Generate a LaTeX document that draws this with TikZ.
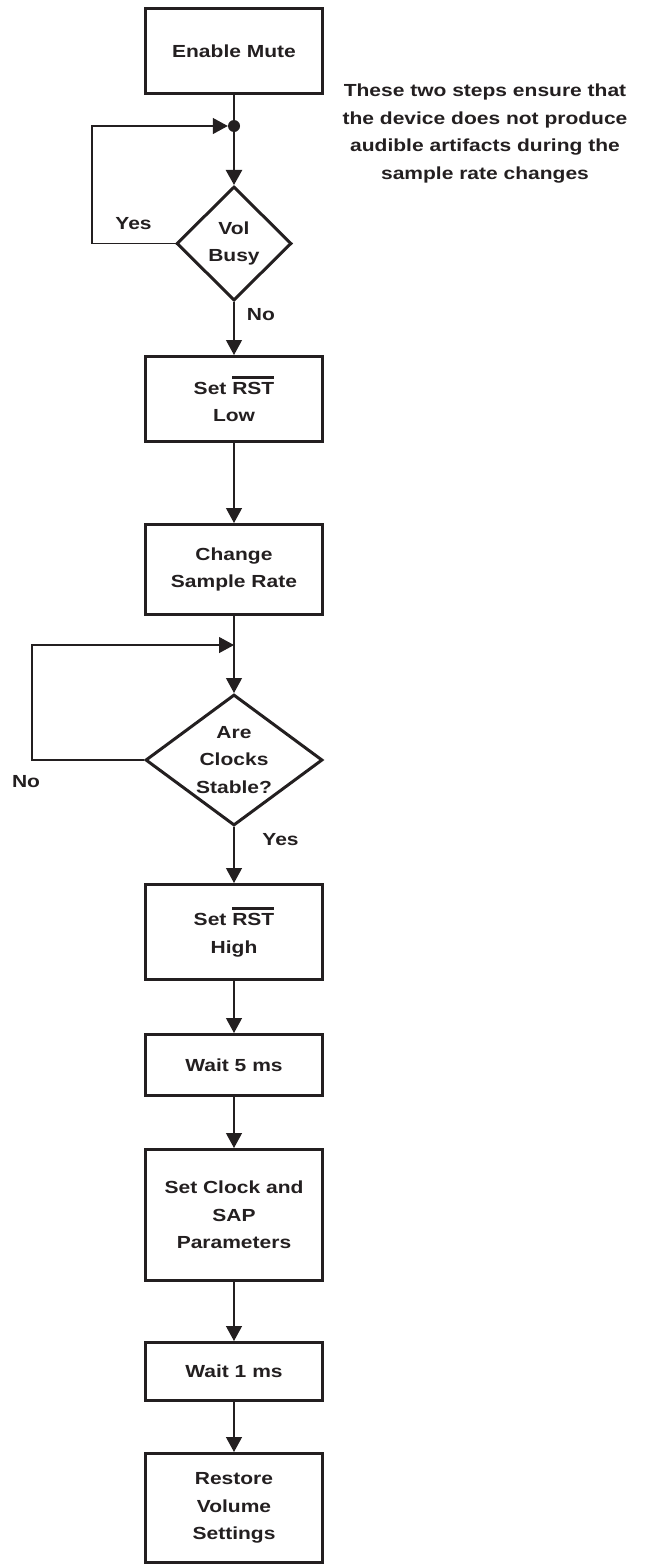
\documentclass[tikz,border=0pt]{standalone}
\usepackage{fontspec}
\usepackage{tikz}
\usetikzlibrary{arrows.meta,positioning,shapes.geometric,calc}
\newfontfamily\flowfont{Liberation Sans}[FakeStretch=1.2]
\definecolor{ink}{HTML}{231F20}
\newcommand{\flowsize}{\flowfont\bfseries\fontsize{17.5pt}{27.5pt}\selectfont}
\newcommand{\barred}[1]{\leavevmode\hbox{\vbox{\hrule height 2.7pt\kern 3.5pt\hbox{#1}}}}
\tikzset{
  stepbox/.style={rectangle, draw=ink, text=ink, line width=3pt, minimum width=177pt,
                  align=center, font=\flowsize},
  decision/.style={diamond, draw=ink, text=ink, line width=3pt, inner sep=0pt,
                   align=center, font=\flowsize},
  note/.style={align=center, text=ink, font=\flowsize},
  lbl/.style={text=ink, font=\flowsize},
  dot/.style={circle, fill=ink, inner sep=0pt, minimum size=12pt},
  link/.style={draw=ink, line width=1.2pt},
  flow/.style={-{Triangle[length=15pt, width=16pt]}, draw=ink, line width=1.2pt}
}
\begin{document}
\begin{tikzpicture}[x=1pt, y=1pt]
 \useasboundingbox (0,0) rectangle (651,-1566);
 \node[stepbox, minimum height=85pt] (mute) at (234,-51) {Enable Mute};
 \node[dot] (jn) at (234,-126) {};
 \node[decision, minimum width=115pt, minimum height=114pt, below=90pt of mute] (busy) {Vol\\Busy};
 \node[stepbox, minimum height=85pt, below=53pt of busy] (setlow) {Set \barred{RST}\\Low};
 \node[stepbox, minimum height=90pt, below=80pt of setlow] (rate) {Change\\Sample Rate};
 \node[decision, minimum width=177pt, minimum height=131pt, aspect=1.35, below=77pt of rate] (clocks) {Are\\Clocks\\Stable?};
 \node[stepbox, minimum height=95pt, below=56pt of clocks] (sethigh) {Set \barred{RST}\\High};
 \node[stepbox, minimum height=61pt, below=52pt of sethigh] (wait5) {Wait 5 ms};
 \node[stepbox, minimum height=131pt, below=51pt of wait5] (params) {Set Clock and\\SAP\\Parameters};
 \node[stepbox, minimum height=58pt, below=59pt of params] (wait1) {Wait 1 ms};
 \node[stepbox, minimum height=109pt, below=50pt of wait1] (restore) {Restore\\Volume\\Settings};
 \node[note] (why) at (485,-133.5) {These two steps ensure that\\the device does not produce\\audible artifacts during the\\sample rate changes};
 \coordinate (merge) at ($(rate.south)!0.377!(clocks.north)$);

 % volume ramp wait loop
 \draw[link, line width=2.4pt] (mute) -- (jn);
 \draw[flow, line width=2.4pt] (jn) -- (busy);
 \draw[flow] (busy.west) -- node[lbl, above=10pt]{Yes} ++(-83,0) |- (jn.west);
 \draw[flow] (busy) -- node[lbl, right=9pt, pos=0.245]{No} (setlow);
 \draw[flow] (setlow) -- (rate);
 % clock settle loop
 \draw[link] (rate) -- (merge);
 \draw[flow] (merge) -- (clocks);
 \draw[flow] (clocks.west) -- ++(-112,0) node[lbl, below=12pt, xshift=-6pt]{No} |- (merge);
 \draw[flow] (clocks) -- node[lbl, right=24.5pt, pos=0.23]{Yes} (sethigh);
 \foreach \a/\b in {sethigh/wait5, wait5/params, params/wait1, wait1/restore}
   \draw[flow] (\a) -- (\b);
\end{tikzpicture}
\end{document}
